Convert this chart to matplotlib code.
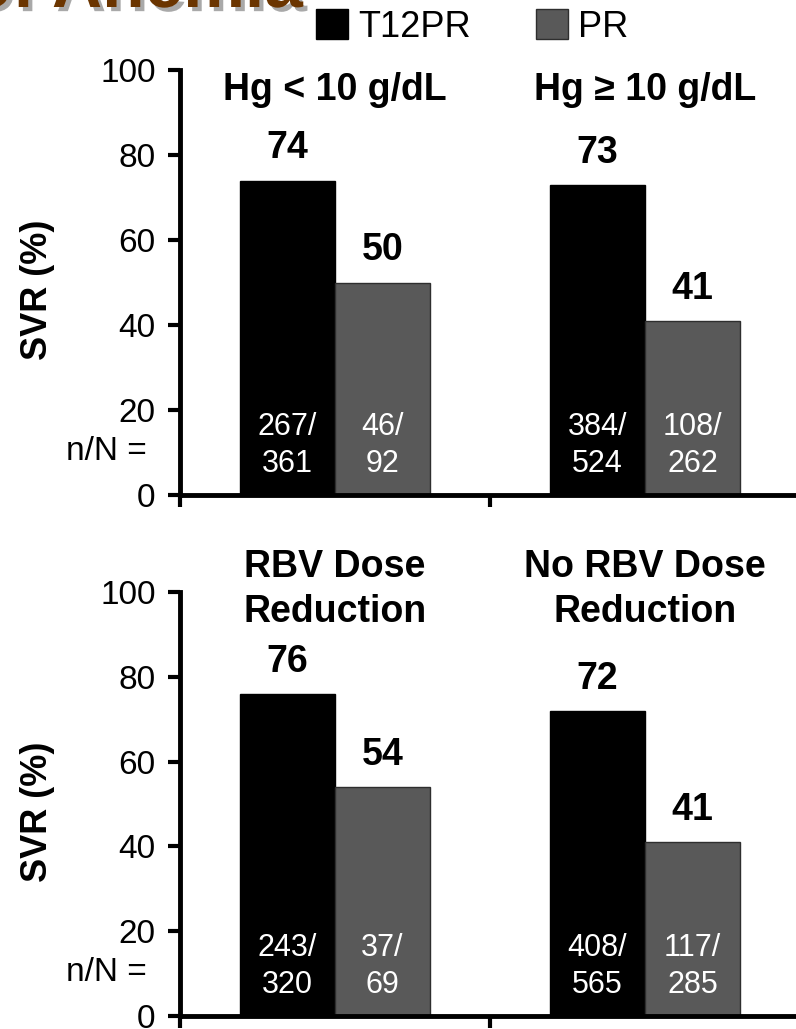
import matplotlib
matplotlib.use('Agg')
import matplotlib.pyplot as plt
import matplotlib.patheffects as pe
import numpy as np

plt.rcParams['font.family'] = ['Liberation Sans', 'DejaVu Sans']

# SVR rates (%) and n/N counts for each subgroup
series = ['T12PR', 'PR']
colors = ['#000000', '#595959']
edges = ['#000000', '#2e2e2e']

top_groups = ['Hg < 10 g/dL', 'Hg \u2265 10 g/dL']
top_t12pr = [74, 73]
top_pr = [50, 41]
top_t12pr_n = [267, 384]
top_t12pr_N = [361, 524]
top_pr_n = [46, 108]
top_pr_N = [92, 262]

bot_groups = ['RBV Dose\nReduction', 'No RBV Dose\nReduction']
bot_t12pr = [76, 72]
bot_pr = [54, 41]
bot_t12pr_n = [243, 408]
bot_t12pr_N = [320, 565]
bot_pr_n = [37, 117]
bot_pr_N = [69, 285]

W, H = 796, 1029
fig = plt.figure(figsize=(W / 100, H / 100), dpi=100)

ax_top = fig.add_axes([180 / W, (H - 495) / H, 620 / W, 425 / H])
ax_bot = fig.add_axes([180 / W, (H - 1016) / H, 620 / W, 424 / H])

bw = 0.3065


def draw_panel(ax, groups, t12, pr, tn, tN, pn, pN):
    x = np.arange(len(groups)) + 0.5
    b1 = ax.bar(x - bw / 2, t12, bw, color=colors[0], edgecolor=edges[0], linewidth=1)
    b2 = ax.bar(x + bw / 2, pr, bw, color=colors[1], edgecolor=edges[1], linewidth=1)

    # bold values over the bars
    for xi, v in zip(x - bw / 2, t12):
        ax.text(xi, v + 5.2, str(v), ha='center', va='baseline', fontsize=27, fontweight='bold')
    for xi, v in zip(x + bw / 2, pr):
        ax.text(xi, v + 5.2, str(v), ha='center', va='baseline', fontsize=27, fontweight='bold')

    # n/N inside the bars (baseline of the lower line)
    for xi, n, N in zip(x - bw / 2, tn, tN):
        ax.text(xi, 5.4, f'{n}/\n{N}', ha='center', va='baseline', fontsize=22,
                color='white', linespacing=1.3)
    for xi, n, N in zip(x + bw / 2, pn, pN):
        ax.text(xi, 5.4, f'{n}/\n{N}', ha='center', va='baseline', fontsize=22,
                color='white', linespacing=1.3)

    for xi, g in zip(x, groups):
        ax.text(xi, 93, g, ha='center', va='baseline', fontsize=27,
                fontweight='bold', linespacing=1.3)

    ax.text(-0.053, 8.2, 'n/N =', transform=ax.get_yaxis_transform(),
            ha='right', va='baseline', fontsize=24)

    ax.set_xlim(0, 2)
    ax.set_ylim(0, 100)
    ax.set_xticks([0, 1, 2])
    ax.set_xticklabels([])
    ax.set_yticks([0, 20, 40, 60, 80, 100])
    ax.tick_params(axis='y', direction='out', length=8.6, width=3, pad=9, labelsize=24)
    ax.tick_params(axis='x', direction='out', length=8.6, width=3)
    for s in ['top', 'right']:
        ax.spines[s].set_visible(False)
    for s in ['left', 'bottom']:
        ax.spines[s].set_linewidth(3.5)
    ax.set_ylabel('SVR (%)', fontsize=26, fontweight='bold')
    ax.yaxis.label.set_va('center')
    ax.yaxis.set_label_coords(-0.2306, 0.482)
    return b1, b2


h1, h2 = draw_panel(ax_top, top_groups, top_t12pr, top_pr, top_t12pr_n, top_t12pr_N,
                    top_pr_n, top_pr_N)
draw_panel(ax_bot, bot_groups, bot_t12pr, bot_pr, bot_t12pr_n, bot_t12pr_N,
           bot_pr_n, bot_pr_N)

fig.legend([h1, h2], series, loc='center left', bbox_to_anchor=(316 / W, 1 - 27 / H),
           ncol=2, frameon=False, fontsize=26, handlelength=0.89, handleheight=0.86,
           handletextpad=0.28, columnspacing=1.8, borderpad=0, borderaxespad=0)

# slide heading, mostly above the visible area
fig.text(303 / W, 1 - 7 / H, 'of Anemia', ha='right', va='baseline', fontsize=50,
         fontweight='bold', color='#6b3500',
         path_effects=[pe.SimplePatchShadow(offset=(3, -3), shadow_rgbFace='#555555', alpha=0.5),
                       pe.Normal()])

fig.savefig('out.png', dpi=100)
